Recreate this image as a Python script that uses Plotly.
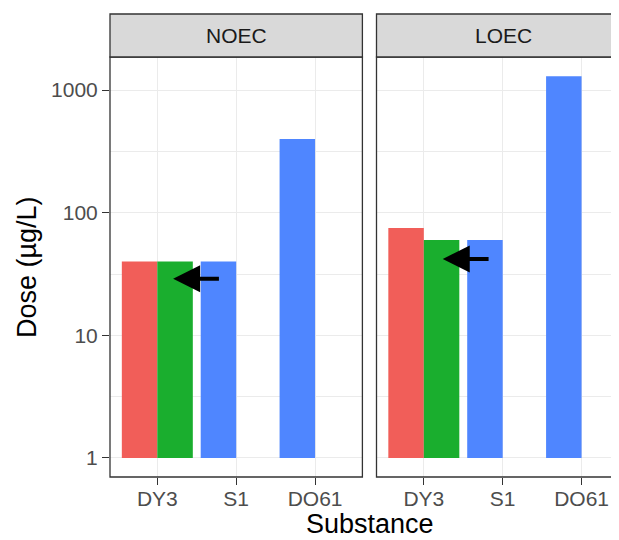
import math
import plotly.graph_objects as go

# ---------------- data ----------------
substances = ["DY3", "S1", "DO61"]
panels = ["NOEC", "LOEC"]

# left slot of each dodged pair (DY3 = first group, S1 / DO61 = single group)
noec_left = [40, 40, 400]
noec_right = [40, None, None]
loec_left = [75, 60, 1300]
loec_right = [60, None, None]

left_colors = ["#F15E59", "#4F86FF", "#4F86FF"]
right_color = "#1AAE2E"

y_tickvals = [1, 10, 100, 1000]
y_ticktext = ["1", "10", "100", "1000"]
y_minor = [10 ** 0.5, 10 ** 1.5, 10 ** 2.5]

# arrows: (tip x offset, tail x offset) from DY3, y value
arrow_noec = dict(tip=0.2, tail=0.8, y=29)
arrow_loec = dict(tip=0.24, tail=0.84, y=42)

# ---------------- layout geometry (reference pixel frame) ----------------
OFF = 8                      # browser body margin
WREF, HREF = 619, 540
LREF, TREF, BOTREF = 110, 57, 477
pw = WREF - LREF
ph = BOTREF - TREF

noec_dom = [0, (362.4 - LREF) / pw]
loec_dom = [(376.5 - LREF) / pw, 1]
px_per_cat = (362.4 - LREF) / 3.2
loec_span = (WREF - 376.5) / px_per_cat

BASE = 1

def bars(vals):
    return [None if v is None else v - BASE for v in vals]

fig = go.Figure()
for xa, ya, left, right in [("x", "y", noec_left, noec_right),
                            ("x2", "y2", loec_left, loec_right)]:
    fig.add_trace(go.Bar(x=substances, y=bars(left), base=BASE,
                         marker=dict(color=left_colors, line=dict(width=0)),
                         xaxis=xa, yaxis=ya, showlegend=False, hoverinfo="skip"))
    fig.add_trace(go.Bar(x=substances, y=bars(right), base=BASE,
                         marker=dict(color=right_color, line=dict(width=0)),
                         xaxis=xa, yaxis=ya, showlegend=False, hoverinfo="skip"))

grid = "#EBEBEB"
dark = "#333333"
FONT = "Liberation Sans, Arial, sans-serif"
tickfont = dict(family=FONT, size=21, color="#4D4D4D")

xcommon = dict(type="category", categoryorder="array", categoryarray=substances,
               showgrid=True, gridcolor=grid, gridwidth=1.3,
               ticks="outside", ticklen=7, tickcolor=dark, tickwidth=1.3,
               tickfont=tickfont, showline=False, zeroline=False,
               ticklabelstandoff=-4)
fig.update_layout(
    xaxis=dict(xcommon, domain=noec_dom, range=[-0.6, 2.6], anchor="y"),
    xaxis2=dict(xcommon, domain=loec_dom, range=[-0.6, -0.6 + loec_span], anchor="y2"),
)
ycommon = dict(type="log", range=[-0.155, 3.27],
               tickvals=y_tickvals, ticktext=y_ticktext,
               showgrid=True, gridcolor=grid, gridwidth=1.3,
               minor=dict(tickvals=y_minor, showgrid=True, gridcolor=grid,
                          gridwidth=0.7, ticklen=0),
               zeroline=False, showline=False)
fig.update_layout(
    yaxis=dict(ycommon, anchor="x", ticks="outside", ticklen=7, tickcolor=dark,
               tickwidth=1.3, tickfont=tickfont),
    yaxis2=dict(ycommon, anchor="x2", matches="y", showticklabels=False, ticks=""),
)

shapes = []
strip_top = 1 + (TREF - 14) / ph
for dom in [noec_dom, [loec_dom[0], 1.05]]:
    shapes.append(dict(type="rect", xref="paper", yref="paper",
                       x0=dom[0], x1=dom[1], y0=0, y1=1,
                       line=dict(color=dark, width=1.3), layer="above"))
    shapes.append(dict(type="rect", xref="paper", yref="paper",
                       x0=dom[0], x1=dom[1], y0=1, y1=strip_top,
                       fillcolor="#D9D9D9", line=dict(color=dark, width=1.3),
                       layer="above"))

annotations = []
strip_mid = 1 + (TREF - 14) / 2 / ph
strip_centers = [(noec_dom[0] + noec_dom[1]) / 2, (503.25 - LREF) / pw]
for name, cx in zip(panels, strip_centers):
    annotations.append(dict(text=name, xref="paper", yref="paper", x=cx, y=strip_mid,
                            showarrow=False, xanchor="center", yanchor="middle",
                            font=dict(family=FONT, size=21, color="#1A1A1A")))

for xr, yr, a in [("x", "y", arrow_noec), ("x2", "y2", arrow_loec)]:
    annotations.append(dict(x=a["tip"], y=math.log10(a["y"]), xref=xr, yref=yr,
                            ax=a["tail"], ay=math.log10(a["y"]), axref=xr, ayref=yr,
                            showarrow=True, arrowhead=2, arrowsize=1.35, arrowwidth=4,
                            arrowcolor="black", text="", standoff=0))

titlefont = dict(family=FONT, size=27, color="black")
annotations.append(dict(text="Dose (µg/L)", xref="paper", yref="paper",
                        x=(27 - LREF) / pw, y=0.5, textangle=-90, showarrow=False,
                        xanchor="center", yanchor="middle", font=titlefont))
annotations.append(dict(text="Substance", xref="paper", yref="paper",
                        x=(370 - LREF) / pw, y=-(524 - BOTREF) / ph, showarrow=False,
                        xanchor="center", yanchor="middle", font=titlefont,
                        borderpad=0))

fig.update_layout(
    width=WREF - OFF, height=HREF - OFF,
    margin=dict(l=LREF - OFF, r=0, t=TREF - OFF, b=HREF - BOTREF, pad=0),
    paper_bgcolor="white", plot_bgcolor="white",
    barmode="group", bargap=0.1, bargroupgap=0,
    shapes=shapes, annotations=annotations,
    showlegend=False,
)

fig.write_html("out.html")
